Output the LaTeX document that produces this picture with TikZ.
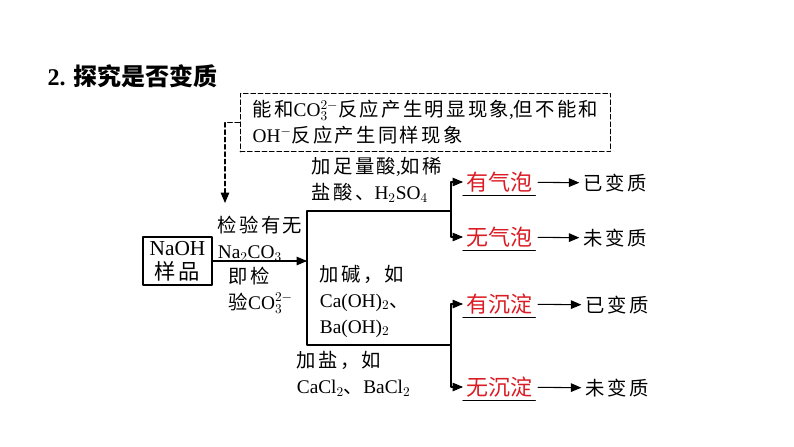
\documentclass[tikz,border=0pt]{standalone}
\usepackage{fontspec}
\setmainfont{Liberation Serif}
\newfontfamily\cjk[LetterSpace=12]{Noto Sans CJK SC}
\newfontfamily\cjkt{Noto Sans CJK SC}
\usetikzlibrary{arrows}
\definecolor{redtxt}{RGB}{218,28,36}
\newcommand{\zh}[1]{{\cjk #1}}
\tikzset{
  lbl/.style={inner sep=1pt,align=left,font=\fontsize{14.5}{19.5}\selectfont},
  res/.style={inner sep=2pt,font=\cjkt\fontsize{16.5}{19}\selectfont,text=redtxt},
  ans/.style={inner sep=1pt,font=\cjk\fontsize{14.5}{19}\selectfont},
  samplebox/.style={draw,line width=0.8pt,minimum width=51.75pt,minimum height=36pt,align=center,inner sep=2pt,font=\fontsize{16}{18}\selectfont},
  note/.style={draw,dashed,dash pattern=on 3.5pt off 2pt,line width=0.8pt,minimum width=278pt,minimum height=44pt,align=left,inner sep=3pt,font=\fontsize{14.5}{19.5}\selectfont}
}
\begin{document}
\begin{tikzpicture}[line cap=round,line join=round,>=triangle 45,x=0.75pt,y=-0.75pt,line width=0.8pt]
\useasboundingbox (0,0) rectangle (794,447);
\node[anchor=west,inner sep=0pt,font=\bfseries\fontsize{18}{20}\selectfont] (title) at (47,76) {2. {\cjkt\bfseries 探究是否变质}};
\node[note] (note) at (425.5,122.5) {\zh{能和}CO$_3^{2-}$\zh{反应产生明显现象},\zh{但不能和}\\OH$^{-}$\zh{反应产生同样现象}};
\node[samplebox] (naoh) at (177.5,261) {NaOH\\\zh{样品}};
% labels
\node[lbl,anchor=west] (chk) at (216,239) {\zh{检验有无}\\Na$_2$CO$_3$};
\node[lbl,anchor=west] (chkb) at (227,290) {\zh{即检}\\\zh{验}CO$_3^{2-}$};
\node[lbl,anchor=west] (acid) at (310,180) {\zh{加足量酸},\zh{如稀}\\\zh{盐酸、}H$_2$SO$_4$};
\node[lbl,anchor=west] (base) at (318,301) {\zh{加碱，如}\\Ca(OH)$_2$\zh{、}\\Ba(OH)$_2$};
\node[lbl,anchor=west] (salt) at (295,374) {\zh{加盐，如}\\CaCl$_2$\zh{、}BaCl$_2$};
% results
\node[res,anchor=west] (bub1) at (463,182) {有气泡};
\node[res,anchor=west] (bub2) at (463,237) {无气泡};
\node[res,anchor=west] (ppt1) at (463,304) {有沉淀};
\node[res,anchor=west] (ppt2) at (463,387) {无沉淀};
\foreach \n in {bub1,bub2,ppt1,ppt2}
  \draw (\n.south west) -- (\n.south east);
\node[ans,anchor=west] (r1) at (582,183) {已变质};
\node[ans,anchor=west] (r2) at (582,238) {未变质};
\node[ans,anchor=west] (r3) at (584,305) {已变质};
\node[ans,anchor=west] (r4) at (584,388) {未变质};
% connectors
\coordinate (tip) at (225,203);
\coordinate (tr) at (307,211);
\coordinate (br) at (307,345);
\coordinate (bx1) at (451,211);
\coordinate (bx2) at (451,345);
\draw[dashed,dash pattern=on 3.5pt off 2pt,->] (note.west) -| (tip);
\draw[->] (naoh.east) -- (naoh.east -| tr);
\draw (bx1) -- (tr) -- (br) -- (bx2);
\draw[->] (bx1) |- (bub1.west);
\draw[->] (bx1) |- (bub2.west);
\draw[->] (bx2) |- (ppt1.west);
\draw[->] (bx2) |- (ppt2.west);
\draw[->,shorten <=2pt,shorten >=2pt] (bub1) -- (r1);
\draw[->,shorten <=2pt,shorten >=2pt] (bub2) -- (r2);
\draw[->,shorten <=2pt,shorten >=2pt] (ppt1) -- (r3);
\draw[->,shorten <=2pt,shorten >=2pt] (ppt2) -- (r4);
\end{tikzpicture}
\end{document}
